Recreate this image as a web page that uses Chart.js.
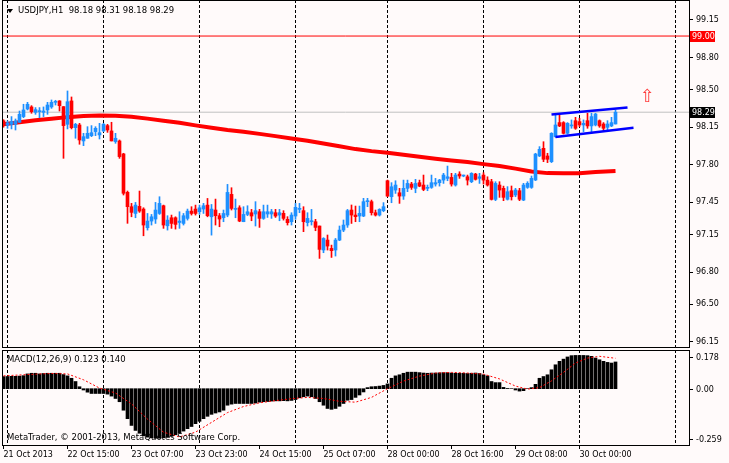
<!DOCTYPE html>
<html><head><meta charset="utf-8">
<script src="https://cdn.jsdelivr.net/npm/chart.js@4.4.0/dist/chart.umd.min.js"></script>
<style>
html,body{margin:0;padding:0;background:#FFFAFA;}
#wrap{position:relative;width:729px;height:463px;background:#FFFAFA;overflow:hidden;font-family:'DejaVu Sans',sans-serif;}
canvas{position:absolute;left:0;}
.t{position:absolute;font-size:8.5px;line-height:11px;color:#000;white-space:pre;}
.tri{position:absolute;left:7px;top:9px;width:0;height:0;border-left:3px solid transparent;border-right:3px solid transparent;border-top:4px solid #000;}
</style></head><body>
<div id="wrap">
<canvas id="main" width="729" height="348" style="top:0"></canvas>
<canvas id="macd" width="729" height="115" style="top:348px"></canvas>
<div class="tri"></div>
<div class="t" id="title" style="left:18px;top:5px"></div>
<div class="t" id="macdLabel" style="left:7px;top:354px"></div>
<div class="t" id="copy" style="left:7px;top:432px"></div>
</div>
<script>
// ---------- DATA ----------
const symbolTitle = 'USDJPY,H1  98.18 98.31 98.18 98.29';
const macdTitle = 'MACD(12,26,9) 0.123 0.140';
const copyText = 'MetaTrader, \u00A9 2001-2013, MetaQuotes Software Corp.';

const candleOpen = [
98.21,98.17,98.177,98.177,98.196,98.249,98.32,98.339,98.289,98.295,
98.289,98.311,98.339,98.382,98.395,98.342,98.177,98.395,98.146,98.171,
98.022,98.047,98.071,98.109,98.078,98.115,98.165,98.115,98.016,98.022,
97.901,97.543,97.409,97.346,97.412,97.387,97.213,97.275,97.294,97.346,
97.418,97.231,97.306,97.306,97.262,97.253,97.3,97.368,97.387,97.362,
97.387,97.424,97.315,97.378,97.325,97.306,97.331,97.524,97.384,97.399,
97.269,97.337,97.353,97.341,97.362,97.3,97.341,97.341,97.353,97.331,
97.347,97.291,97.269,97.322,97.384,97.372,97.26,97.269,97.269,97.229,
97.005,97.098,97.02,97.005,97.098,97.191,97.238,97.378,97.331,97.322,
97.322,97.456,97.456,97.353,97.331,97.372,97.651,97.502,97.564,97.539,
97.508,97.58,97.62,97.58,97.633,97.611,97.58,97.589,97.62,97.633,
97.657,97.673,97.682,97.611,97.713,97.695,97.688,97.642,97.713,97.673,
97.704,97.657,97.642,97.477,97.611,97.58,97.478,97.558,97.518,97.558,
97.471,97.589,97.589,97.658,97.882,97.953,97.882,97.829,98.062,98.193,
98.193,98.093,98.162,98.211,98.202,98.171,98.211,98.162,98.171,98.211,
98.18,98.149,98.162,98.18];
const candleHigh = [
98.22,98.21,98.249,98.227,98.301,98.364,98.382,98.351,98.333,98.333,
98.339,98.382,98.404,98.401,98.398,98.342,98.488,98.432,98.186,98.186,
98.093,98.155,98.165,98.155,98.186,98.186,98.177,98.196,98.093,98.031,
97.907,97.555,97.44,97.449,97.555,97.399,97.346,97.337,97.449,97.502,
97.424,97.325,97.331,97.315,97.362,97.346,97.387,97.409,97.424,97.424,
97.44,97.486,97.43,97.48,97.346,97.378,97.617,97.586,97.48,97.418,
97.409,97.418,97.384,97.456,97.384,97.424,97.424,97.384,97.384,97.384,
97.372,97.316,97.353,97.44,97.44,97.409,97.353,97.384,97.291,97.229,
97.12,97.145,97.051,97.113,97.229,97.285,97.384,97.425,97.415,97.415,
97.487,97.487,97.471,97.378,97.39,97.447,97.657,97.633,97.651,97.58,
97.657,97.657,97.636,97.664,97.657,97.704,97.611,97.704,97.673,97.664,
97.72,97.788,97.72,97.72,97.735,97.704,97.704,97.726,97.72,97.72,
97.726,97.688,97.664,97.642,97.642,97.601,97.596,97.602,97.58,97.58,
97.627,97.642,97.695,97.907,97.969,98.015,97.907,98.099,98.273,98.264,
98.202,98.193,98.218,98.242,98.233,98.218,98.28,98.28,98.28,98.218,
98.193,98.211,98.242,98.31];
const candleLow = [
98.15,98.14,98.134,98.124,98.196,98.239,98.311,98.28,98.27,98.239,
98.249,98.27,98.326,98.357,98.301,97.86,98.134,98.134,98.047,97.991,
97.978,98.047,98.062,98.071,98.04,98.109,98.102,98.022,98.0,97.86,
97.518,97.254,97.315,97.306,97.356,97.138,97.191,97.238,97.253,97.337,
97.207,97.191,97.207,97.2,97.207,97.238,97.284,97.331,97.331,97.337,
97.346,97.315,97.144,97.238,97.222,97.269,97.315,97.378,97.306,97.269,
97.269,97.325,97.278,97.229,97.216,97.291,97.309,97.3,97.309,97.278,
97.284,97.238,97.238,97.291,97.353,97.176,97.229,97.238,97.185,96.927,
96.98,97.005,96.936,96.949,97.092,97.176,97.216,97.253,97.269,97.269,
97.316,97.409,97.331,97.322,97.322,97.362,97.502,97.446,97.533,97.44,
97.477,97.549,97.57,97.539,97.595,97.558,97.558,97.58,97.601,97.601,
97.626,97.651,97.601,97.601,97.673,97.688,97.611,97.633,97.657,97.626,
97.62,97.601,97.471,97.465,97.496,97.465,97.471,97.471,97.502,97.465,
97.465,97.58,97.58,97.652,97.876,97.829,97.82,97.82,98.056,98.155,
98.087,98.087,98.14,98.13,98.155,98.109,98.14,98.093,98.162,98.149,
98.118,98.124,98.155,98.18];
const candleClose = [
98.17,98.19,98.202,98.208,98.27,98.311,98.364,98.295,98.314,98.301,
98.301,98.357,98.382,98.388,98.351,98.165,98.388,98.146,98.177,98.031,
98.062,98.093,98.099,98.14,98.099,98.177,98.124,98.022,98.047,97.876,
97.534,97.409,97.356,97.424,97.368,97.238,97.275,97.315,97.378,97.44,
97.238,97.284,97.253,97.244,97.275,97.325,97.368,97.346,97.346,97.399,
97.418,97.325,97.387,97.325,97.294,97.346,97.542,97.393,97.393,97.275,
97.337,97.362,97.322,97.372,97.3,97.362,97.362,97.362,97.322,97.353,
97.3,97.26,97.331,97.403,97.394,97.269,97.3,97.278,97.216,97.011,
97.113,97.042,96.999,97.098,97.191,97.238,97.372,97.331,97.316,97.347,
97.456,97.465,97.353,97.331,97.384,97.409,97.508,97.595,97.611,97.508,
97.58,97.626,97.589,97.626,97.601,97.57,97.589,97.633,97.633,97.657,
97.704,97.688,97.62,97.704,97.695,97.704,97.657,97.72,97.664,97.688,
97.657,97.611,97.477,97.626,97.564,97.496,97.549,97.502,97.565,97.478,
97.611,97.627,97.673,97.9,97.944,97.851,97.851,98.093,98.171,98.162,
98.093,98.186,98.171,98.14,98.171,98.186,98.162,98.249,98.273,98.162,
98.14,98.18,98.193,98.29];

const maBars   = [0,4,8,12,16,20,24,28,32,36,40,44,48,52,56,60,64,68,72,76,80,84,88,92,96,100,104,108,112,116,120,124,128,132,136,140,144,148,153];
const maValues = [98.177,98.196,98.214,98.229,98.244,98.254,98.259,98.256,98.248,98.23,98.21,98.192,98.167,98.145,98.124,98.107,98.088,98.067,98.045,98.024,97.998,97.972,97.946,97.927,97.912,97.893,97.874,97.856,97.84,97.825,97.806,97.789,97.764,97.738,97.722,97.72,97.72,97.732,97.741];

const channelUpperBars = [137, 156];
const channelUpperValues = [98.268, 98.333];
const channelLowerBars = [138, 157.5];
const channelLowerValues = [98.058, 98.146];

const resistanceLevel = 99.00;
const bidLevel = 98.29;
const arrowBar = 161;
const arrowPrice = 98.43;

const macdHist = [
0.056,0.056,0.057,0.057,0.058,0.06,
0.068,0.071,0.071,0.068,0.07,0.071,0.071,0.071,0.071,
0.065,0.059,0.048,0.033,0.009,
-0.006,-0.016,-0.022,-0.022,-0.022,-0.022,-0.025,-0.034,-0.045,-0.06,
-0.099,-0.138,-0.169,-0.192,-0.205,-0.216,-0.223,-0.226,-0.228,-0.228,
-0.226,-0.223,-0.219,-0.212,-0.205,-0.195,-0.184,-0.174,-0.161,-0.15,
-0.138,-0.127,-0.118,-0.112,-0.107,-0.099,-0.076,-0.071,-0.068,-0.068,
-0.068,-0.068,-0.068,-0.066,-0.062,-0.06,-0.059,-0.057,-0.056,-0.056,
-0.055,-0.056,-0.054,-0.05,-0.042,-0.037,-0.034,-0.037,-0.045,-0.06,
-0.076,-0.091,-0.095,-0.091,-0.081,-0.068,-0.053,-0.05,-0.04,-0.029,
-0.015,0.005,0.009,0.01,0.012,0.015,0.022,0.048,0.059,0.064,
0.071,0.076,0.076,0.076,0.074,0.072,0.071,0.072,0.072,0.073,
0.074,0.074,0.072,0.071,0.071,0.071,0.07,0.071,0.072,0.07,
0.064,0.059,0.033,0.028,0.028,0.006,0.001,0.0,-0.006,-0.011,
-0.009,0.0,0.005,0.02,0.048,0.056,0.064,0.087,0.11,0.126,
0.136,0.146,0.152,0.153,0.153,0.153,0.152,0.149,0.141,0.133,
0.126,0.121,0.118,0.123];

const signalBars = [0,4,8,12,16,20,24,28,32,36,40,44,48,52,56,60,64,68,72,76,80,84,88,92,96,100,104,108,112,116,120,124,128,131,134,137,140,143,146,149,153];
const signalValues = [0.059,0.063,0.067,0.07,0.068,0.041,0.003,-0.02,-0.07,-0.14,-0.2,-0.222,-0.2,-0.155,-0.11,-0.082,-0.065,-0.055,-0.046,-0.04,-0.045,-0.058,-0.062,-0.04,0.0,0.035,0.058,0.072,0.075,0.072,0.067,0.045,0.012,-0.002,0.005,0.036,0.075,0.118,0.141,0.149,0.14];

const priceTicks = [96.15, 96.50, 96.80, 97.15, 97.45, 97.80, 98.15, 98.50, 98.80, 99.15];
const macdTicks = [0.178, 0.00, -0.259];
const macdTickLabels = ['0.178', '0.00', '-0.259'];
const timeTicks = [0, 16, 32, 48, 64, 80, 96, 112, 128, 144];
const timeLabels = ['21 Oct 2013','22 Oct 15:00','23 Oct 07:00','23 Oct 23:00','24 Oct 15:00','25 Oct 07:00','28 Oct 00:00','28 Oct 16:00','29 Oct 08:00','30 Oct 00:00'];
const dayBreaks = [1, 25, 49, 73, 96, 120, 144, 168];

// axis ranges
const X_MIN = -0.375, X_MAX = 171.375;
const Y_MIN = 96.101, Y_MAX = 99.336;

// ---------- STYLE ----------
const FAMILY = "'DejaVu Sans', sans-serif";
const UP = '#1E90FF', DOWN = '#FF0000';
Chart.defaults.font.family = FAMILY;
Chart.defaults.color = '#000';

document.getElementById('title').textContent = symbolTitle;
document.getElementById('macdLabel').textContent = macdTitle;
document.getElementById('copy').textContent = copyText;

const idx = candleOpen.map((_, i) => i);
const candleColor = idx.map(i => candleClose[i] >= candleOpen[i] ? UP : DOWN);

// dashed vertical day separators, positioned through the x scale
const dayGrid = {
  id: 'dayGrid',
  beforeDatasetsDraw(chart) {
    const {ctx, chartArea: a} = chart;
    const x = chart.scales.x;
    ctx.save();
    ctx.beginPath();
    ctx.rect(a.left, a.top, a.right - a.left, a.bottom - a.top);
    ctx.clip();
    ctx.strokeStyle = '#000'; ctx.lineWidth = 1; ctx.setLineDash([3, 2]);
    dayBreaks.forEach(v => {
      const px = Math.floor(x.getPixelForValue(v)) + 0.5;
      ctx.beginPath(); ctx.moveTo(px, a.top); ctx.lineTo(px, a.bottom); ctx.stroke();
    });
    ctx.restore();
  }
};

const mainDecor = {
  id: 'mainDecor',
  afterDraw(chart) {
    const {ctx, chartArea: a, scales} = chart;
    const y = scales.y, x = scales.x;
    ctx.save();
    ctx.strokeStyle = '#000'; ctx.lineWidth = 1;
    ctx.strokeRect(a.left + 0.5, a.top + 0.5, a.right - a.left, a.bottom - a.top);
    function tag(value, bg, label) {
      const py = Math.round(y.getPixelForValue(value));
      ctx.fillStyle = bg; ctx.fillRect(a.right + 1, py - 5, 25, 11);
      ctx.fillStyle = '#fff'; ctx.font = '8px ' + FAMILY;
      ctx.textAlign = 'left'; ctx.textBaseline = 'middle';
      ctx.fillText(label, a.right + 3, py + 0.5);
    }
    tag(resistanceLevel, '#FF0000', resistanceLevel.toFixed(2));
    tag(bidLevel, '#000000', bidLevel.toFixed(2));
    ctx.font = '18px ' + FAMILY;
    ctx.fillStyle = '#FF3B3B';
    ctx.textAlign = 'center'; ctx.textBaseline = 'middle';
    ctx.fillText('\u21E7', x.getPixelForValue(arrowBar), y.getPixelForValue(arrowPrice));
    ctx.restore();
  }
};

const xAxisBase = {
  type: 'linear', position: 'bottom', min: X_MIN, max: X_MAX, offset: false
};

new Chart(document.getElementById('main'), {
  type: 'bar',
  data: {
    datasets: [
      {type: 'line', order: 10, data: [{x: X_MIN, y: resistanceLevel}, {x: X_MAX, y: resistanceLevel}], borderColor: '#FF0000', borderWidth: 1, pointRadius: 0},
      {type: 'line', order: 10, data: [{x: X_MIN, y: bidLevel}, {x: X_MAX, y: bidLevel}], borderColor: '#C0C0C0', borderWidth: 1, pointRadius: 0},
      {type: 'line', order: 8, data: maBars.map((b, i) => ({x: b, y: maValues[i]})), borderColor: '#FF0000', borderWidth: 4, pointRadius: 0, tension: 0},
      {order: 5, data: idx.map(i => ({x: i, y: [candleLow[i], candleHigh[i]]})), backgroundColor: candleColor, grouped: false, barThickness: 1, maxBarThickness: 1, barPercentage: 1, categoryPercentage: 1, borderWidth: 0},
      {order: 4, data: idx.map(i => ({x: i, y: [candleOpen[i], candleClose[i]]})), backgroundColor: candleColor, grouped: false, barThickness: 3, maxBarThickness: 3, barPercentage: 1, categoryPercentage: 1, borderWidth: 0, minBarLength: 1},
      {type: 'line', order: 1, data: channelUpperBars.map((b, i) => ({x: b, y: channelUpperValues[i]})), borderColor: '#0000FF', borderWidth: 2.5, pointRadius: 0},
      {type: 'line', order: 1, data: channelLowerBars.map((b, i) => ({x: b, y: channelLowerValues[i]})), borderColor: '#0000FF', borderWidth: 2.5, pointRadius: 0}
    ]
  },
  options: {
    responsive: false, animation: false, devicePixelRatio: 1, events: [],
    layout: {padding: {left: 2, right: 0, top: 0, bottom: 1}},
    plugins: {legend: {display: false}, tooltip: {enabled: false}},
    scales: {
      x: Object.assign({}, xAxisBase, {
        ticks: {display: false}, grid: {display: false}, border: {display: false},
        afterFit: s => { s.height = 0; s.paddingLeft = 0; s.paddingRight = 0; }
      }),
      y: {
        type: 'linear', position: 'right', min: Y_MIN, max: Y_MAX,
        afterBuildTicks: s => { s.ticks = priceTicks.map(v => ({value: v})); },
        ticks: {autoSkip: false, padding: 3, color: '#000', font: {size: 8, family: FAMILY}, callback: v => Number(v).toFixed(2)},
        grid: {drawOnChartArea: false, drawTicks: true, tickLength: 4, color: '#000'},
        border: {display: false},
        afterFit: s => { s.width = 40; s.paddingTop = 0; s.paddingBottom = 0; }
      }
    }
  },
  plugins: [dayGrid, mainDecor]
});

const macdDecor = {
  id: 'macdDecor',
  afterDraw(chart) {
    const {ctx, chartArea: a, scales} = chart;
    const y = scales.y;
    ctx.save();
    ctx.strokeStyle = '#000'; ctx.lineWidth = 1;
    ctx.strokeRect(a.left + 0.5, a.top + 0.5, a.right - a.left, a.bottom - a.top);
    ctx.font = '8px ' + FAMILY; ctx.fillStyle = '#000';
    ctx.textAlign = 'left'; ctx.textBaseline = 'middle';
    macdTicks.forEach((v, i) => {
      let py = y.getPixelForValue(v);
      py = Math.round(Math.min(Math.max(py, a.top + 7), a.bottom - 6));
      ctx.beginPath(); ctx.moveTo(a.right, py + 0.5); ctx.lineTo(a.right + 4, py + 0.5); ctx.stroke();
      ctx.fillText(macdTickLabels[i], a.right + 7, py + 0.5);
    });
    ctx.restore();
  }
};

new Chart(document.getElementById('macd'), {
  type: 'bar',
  data: {
    datasets: [
      {type: 'line', order: 1, data: signalBars.map((b, i) => ({x: b, y: signalValues[i]})), borderColor: '#FF0000', borderWidth: 1, borderDash: [2, 2], pointRadius: 0, tension: 0},
      {order: 2, data: macdHist.map((v, i) => ({x: i, y: v})), backgroundColor: '#000', grouped: false, barThickness: 3, maxBarThickness: 3, barPercentage: 1, categoryPercentage: 1, borderWidth: 0}
    ]
  },
  options: {
    responsive: false, animation: false, devicePixelRatio: 1, events: [],
    layout: {padding: {left: 2, right: 0, top: 2, bottom: 0}},
    plugins: {legend: {display: false}, tooltip: {enabled: false}},
    scales: {
      x: Object.assign({}, xAxisBase, {
        afterBuildTicks: s => { s.ticks = timeTicks.map(v => ({value: v})); },
        ticks: {autoSkip: false, maxRotation: 0, minRotation: 0, align: 'start', padding: 1, color: '#000', font: {size: 8, family: FAMILY},
                callback: v => timeLabels[timeTicks.indexOf(v)]},
        grid: {drawOnChartArea: false, drawTicks: true, tickLength: 4, color: '#000', offset: false},
        border: {display: false},
        afterFit: s => { s.height = 18; s.paddingLeft = 0; s.paddingRight = 0; }
      }),
      y: {
        type: 'linear', position: 'right', min: macdTicks[2], max: macdTicks[0],
        ticks: {display: false}, grid: {display: false}, border: {display: false},
        afterFit: s => { s.width = 40; s.paddingTop = 0; s.paddingBottom = 0; }
      }
    }
  },
  plugins: [dayGrid, macdDecor]
});
</script>
</body></html>
